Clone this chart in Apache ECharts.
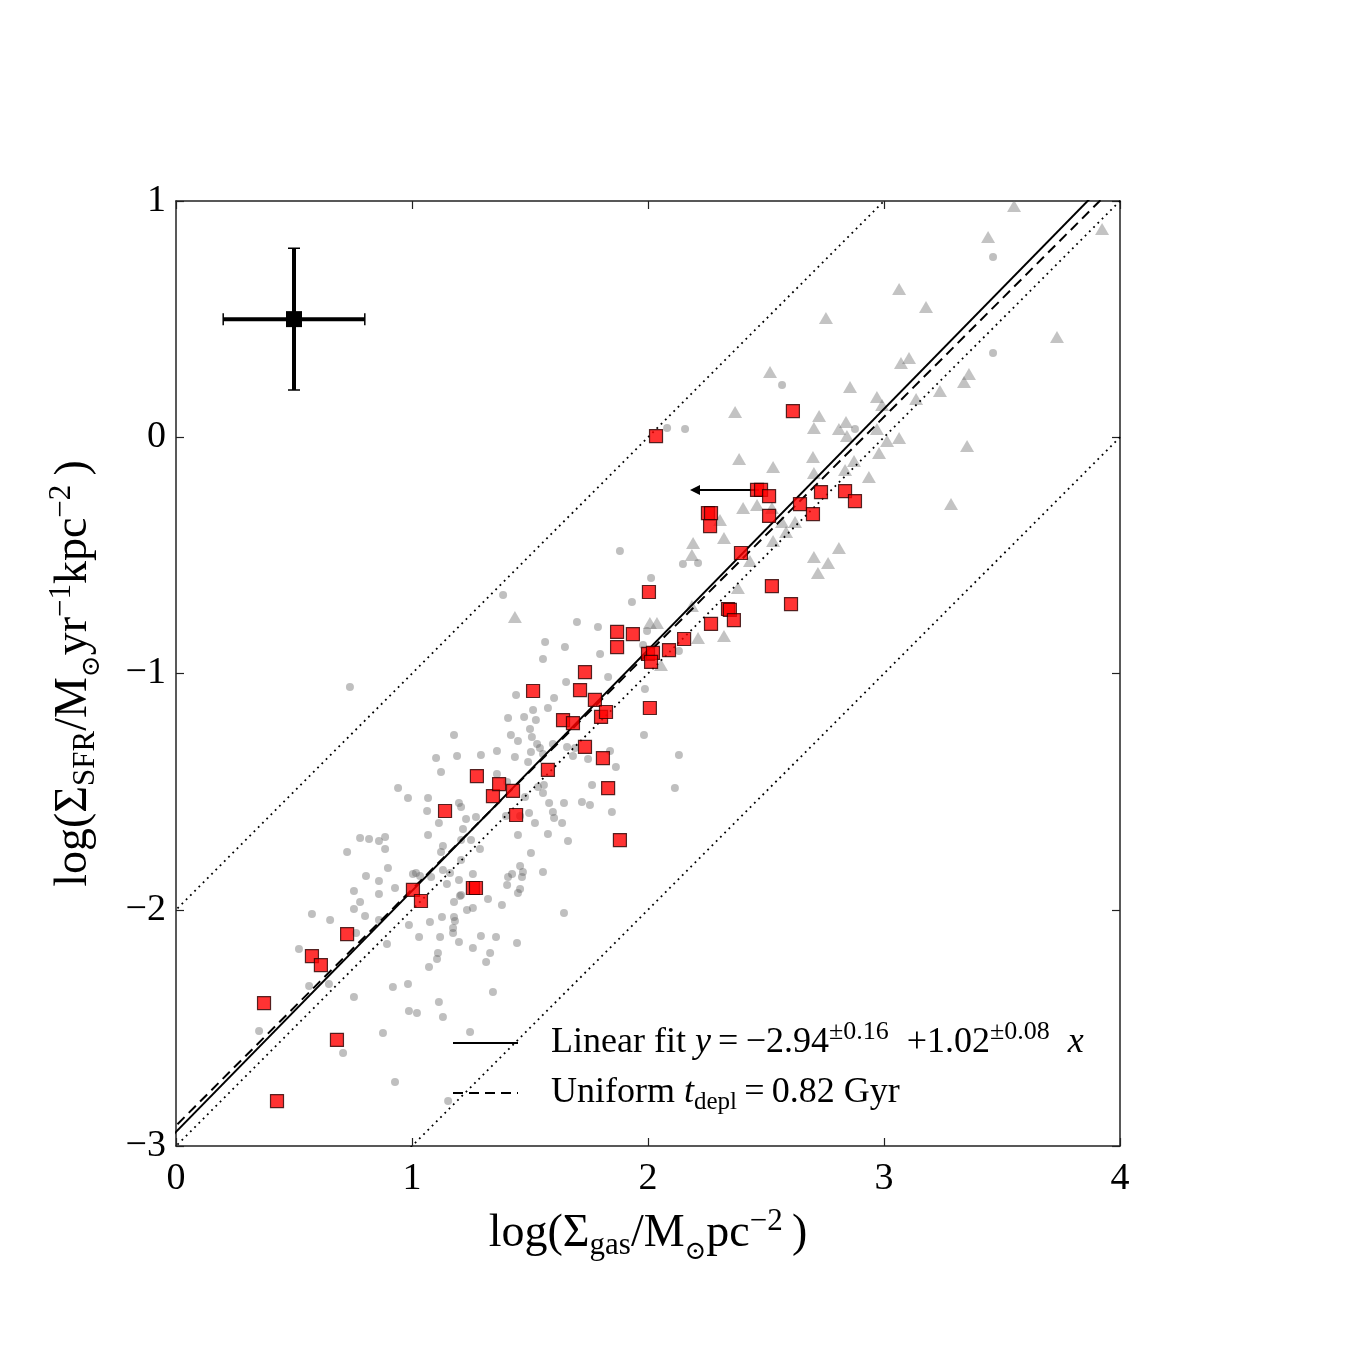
<!DOCTYPE html>
<html><head><meta charset="utf-8">
<script src="https://cdn.jsdelivr.net/npm/echarts@6/dist/echarts.min.js"></script>
<style>html,body{margin:0;padding:0;background:#fff}#c{width:1350px;height:1350px}</style>
</head><body><div id="c"></div>
<script>
// ---- axes ----
const xTicks = [0, 1, 2, 3, 4];
const yTicks = [-3, -2, -1, 0, 1];

// ---- red squares (this work) ----
const redX = [0.373,0.428,0.576,0.614,0.682,0.725,1.004,1.038,1.140,1.258,1.271,1.275,1.343,1.369,1.428,1.441,1.513,1.576,1.640,1.682,1.712,1.733,1.733,1.775,1.801,1.822,1.809,1.831,1.869,1.869,1.881,1.936,2.004,2.008,2.000,2.021,2.013,2.034,2.089,2.153,2.254,2.267,2.263,2.267,2.339,2.347,2.364,2.394,2.462,2.479,2.513,2.513,2.525,2.606,2.614,2.644,2.699,2.733,2.835,2.877];
const redY = [-2.395,-2.81,-2.196,-2.234,-2.551,-2.103,-1.916,-1.963,-1.582,-1.908,-1.908,-1.434,-1.519,-1.468,-1.497,-1.599,-1.074,-1.408,-1.197,-1.210,-1.070,-0.994,-1.311,-1.112,-1.184,-1.163,-1.358,-1.485,-0.824,-0.888,-1.705,-0.833,-0.655,-1.146,-0.917,-0.913,-0.951,0.005,-0.901,-0.854,-0.321,-0.321,-0.376,-0.790,-0.727,-0.731,-0.774,-0.490,-0.223,-0.223,-0.249,-0.333,-0.630,-0.706,0.111,-0.283,-0.325,-0.232,-0.228,-0.270];

// ---- grey triangles ----
const triX = [1.436,2.008,2.038,2.212,2.055,2.322,2.186,2.381,2.191,2.186,2.305,2.322,2.403,2.462,2.525,2.432,2.369,2.386,2.530,2.568,2.623,2.585,2.530,2.703,2.763,2.720,2.809,2.725,2.703,2.809,2.839,2.843,2.856,2.970,2.992,2.970,2.699,2.703,2.835,2.873,2.936,2.979,3.013,3.064,3.136,3.551,3.441,3.924,3.064,3.178,2.754,3.733,2.517,3.072,3.106,3.237,3.339,3.360,3.352,3.284];
const triY = [-0.761,-0.786,-0.786,-0.850,-0.964,-0.841,-0.714,-0.638,-0.448,-0.498,-0.350,-0.426,-0.299,-0.287,-0.299,-0.524,0.107,-0.092,-0.126,-0.359,-0.359,-0.401,-0.439,-0.507,-0.532,-0.575,-0.469,0.090,0.039,0.035,0.065,0.005,0.213,0.170,0.137,0.035,-0.084,-0.151,-0.139,-0.101,-0.168,-0.067,-0.016,-0.003,0.162,0.979,0.848,0.881,0.628,0.551,0.505,0.424,0.276,0.314,0.335,0.196,0.234,0.268,-0.037,-0.283];

// ---- grey dots ----
const dotX = [0.737,1.386,2.081,2.157,2.568,3.462,3.462,2.877,1.881,2.148,2.212,2.013,1.932,1.699,1.788,1.996,1.648,1.797,1.831,2.131,1.979,1.564,1.555,1.653,1.987,1.441,1.602,1.576,1.513,1.475,1.407,1.525,1.500,1.508,1.178,1.419,1.449,1.530,1.542,1.597,1.657,1.983,1.102,1.191,1.292,1.360,1.436,1.492,1.504,1.555,1.691,1.682,1.746,1.839,1.864,2.131,1.123,1.360,1.403,1.534,1.555,1.559,1.479,0.983,1.068,1.199,1.208,1.064,1.114,1.229,1.271,1.398,1.458,1.496,1.581,1.644,1.720,1.754,1.763,1.597,1.602,1.636,1.521,1.847,2.114,1.216,1.068,1.208,1.250,1.288,1.131,1.123,1.449,1.576,1.661,1.504,1.208,1.458,1.470,1.466,1.407,1.403,1.424,1.458,1.449,1.555,1.161,1.017,1.034,1.081,1.148,1.203,1.322,1.381,1.178,1.258,1.233,1.644,1.127,1.178,0.941,0.780,0.818,0.860,0.886,0.725,0.886,0.898,0.805,0.860,1.004,1.131,0.928,0.754,0.780,0.754,0.801,0.860,1.199,1.258,1.208,0.576,0.653,0.860,0.987,1.076,1.182,1.174,1.174,1.119,1.199,1.292,1.258,1.356,1.030,0.894,0.763,0.521,0.564,0.648,0.754,0.919,0.983,1.072,1.110,1.106,1.331,1.314,1.343,1.114,0.987,1.021,1.131,0.352,0.877,1.246,0.708,0.928,1.153,1.445];
const dotY = [-1.057,-0.668,0.039,0.035,0.221,0.763,0.357,0.035,-0.481,-0.537,-0.532,-0.596,-0.697,-0.782,-0.803,-0.820,-0.888,-0.917,-1.015,-0.905,-0.879,-0.867,-0.939,-1.036,-1.066,-1.091,-1.104,-1.146,-1.154,-1.184,-1.188,-1.197,-1.235,-1.269,-1.260,-1.260,-1.286,-1.298,-1.315,-1.298,-1.311,-1.260,-1.358,-1.349,-1.345,-1.328,-1.353,-1.375,-1.332,-1.341,-1.315,-1.349,-1.362,-1.328,-1.396,-1.345,-1.417,-1.425,-1.459,-1.480,-1.506,-1.472,-1.523,-1.527,-1.527,-1.548,-1.565,-1.582,-1.633,-1.616,-1.607,-1.603,-1.603,-1.590,-1.548,-1.548,-1.544,-1.557,-1.472,-1.586,-1.612,-1.633,-1.633,-1.586,-1.485,-1.658,-1.684,-1.705,-1.705,-1.743,-1.730,-1.756,-1.684,-1.679,-1.709,-1.760,-1.789,-1.815,-1.840,-1.861,-1.861,-1.895,-1.849,-1.912,-1.929,-1.840,-1.844,-1.844,-1.857,-1.861,-1.891,-1.942,-1.954,-1.980,-1.967,-1.993,-2.001,-2.014,-2.031,-2.031,-1.485,-1.696,-1.700,-1.709,-1.692,-1.756,-1.743,-1.823,-1.857,-1.878,-1.849,-1.832,-1.908,-1.921,-1.967,-1.997,-2.026,-1.933,-1.874,-1.849,-1.938,-2.018,-2.043,-2.043,-2.065,-2.052,-2.048,-2.077,-2.098,-2.115,-2.137,-2.111,-2.162,-2.115,-2.115,-2.145,-2.098,-2.166,-2.323,-2.314,-2.369,-2.327,-2.314,-2.242,-2.183,-2.208,-2.183,-2.221,-2.348,-2.390,-2.429,-2.437,-2.454,-2.513,-2.522,-2.517,-2.606,-2.729,-2.810,-2.141];

// ---- upper limit arrow (from, to) ----
const arrowFrom = [2.470, -0.223];
const arrowTo = [2.178, -0.223];

// ---- typical error bar ----
const errPoint = [0.5, 0.5];
const errSize = [0.3, 0.3];

// ---- relations ----
const fitIntercept = -2.94, fitSlope = 1.02;
const tDeplGyr = 0.82;
const dottedOffsets = [-2, -3, -4];

const F = 'Liberation Serif';
const pair = (xs, ys) => xs.map((x, i) => [x, ys[i]]);
const xLo = xTicks[0], xHi = xTicks[xTicks.length - 1];
const ext = [xLo - 1, xHi + 1];
const lineData = (a, b) => ext.map(x => [x, a + b * x]);
const uniformIntercept = Math.log10(1e6 / (tDeplGyr * 1e9));
const fmt = v => (v < 0 ? '\u2212' + (-v) : '' + v);

const axisLine = {onZero: false, lineStyle: {color: '#222', width: 1.5}};
const axisTick = {inside: true, length: 8, lineStyle: {color: '#222', width: 1.2}};

const nameRich = {
  n: {fontFamily: F, fontSize: 46, lineHeight: 60, color: '#000'},
  sub: {fontFamily: F, fontSize: 31, lineHeight: 60, padding: [24, 0, 0, 0], color: '#000'},
  sun: {fontFamily: 'DejaVu Serif', fontSize: 26, lineHeight: 60, padding: [36, 0, 0, 0], color: '#000'},
  sup: {fontFamily: F, fontSize: 31, lineHeight: 60, padding: [0, 0, 24, 0], color: '#000'}
};
const legRich = {
  n: {fontFamily: F, fontSize: 36, lineHeight: 44, color: '#000'},
  n0: {fontFamily: F, fontSize: 36, lineHeight: 44, color: '#000', padding: [0, 0, 0, 28]},
  i: {fontFamily: F, fontSize: 36, fontStyle: 'italic', lineHeight: 44, color: '#000'},
  sup: {fontFamily: F, fontSize: 26, lineHeight: 44, padding: [0, 0, 22, 0], color: '#000'},
  sub: {fontFamily: F, fontSize: 25, lineHeight: 44, padding: [18, 0, 0, 0], color: '#000'}
};

const dotted = {color: '#000', width: 1.8, type: [1.8, 4.2], cap: 'butt'};

const option = {
  animation: false,
  backgroundColor: '#fff',
  grid: {left: 176, top: 201, right: 230, bottom: 204, containLabel: false},
  legend: {
    left: 452, top: 1019, padding: 0, orient: 'vertical', itemWidth: 65, itemHeight: 20, itemGap: 4,
    selectedMode: false, data: ['fit', 'uniform'],
    itemStyle: {opacity: 0},
    textStyle: {fontFamily: F, fontSize: 36, lineHeight: 44, color: '#000', rich: legRich},
    formatter: name => name === 'fit'
      ? '{n0|Linear fit }{i|y}{n|\u2009=\u2009\u22122.94}{sup|\u00b10.16}{n|\u2002+1.02}{sup|\u00b10.08}{n|\u2002}{i|x}'
      : '{n0|Uniform }{i|t}{sub|depl}{n|\u2009=\u20090.82 Gyr}'
  },
  xAxis: [
    {type: 'value', min: xLo, max: xHi, interval: 1, position: 'bottom',
     axisLine, axisTick, splitLine: {show: false},
     axisLabel: {margin: 14, fontFamily: F, fontSize: 38, color: '#000', formatter: fmt},
     name: '{n|log(\u03a3}{sub|gas}{n|/M}{sun|\u2299}{n|pc}{sup|\u22122}{n|\u2009)}',
     nameLocation: 'middle', nameGap: 56, nameTextStyle: {rich: nameRich, lineHeight: 60}},
    {type: 'value', min: xLo, max: xHi, interval: 1, position: 'top',
     axisLine, axisTick, axisLabel: {show: false}, splitLine: {show: false}}
  ],
  yAxis: [
    {type: 'value', min: yTicks[0], max: yTicks[yTicks.length - 1], interval: 1, position: 'left',
     axisLine, axisTick, splitLine: {show: false},
     axisLabel: {margin: 10, fontFamily: F, fontSize: 38, color: '#000', formatter: fmt},
     name: '{n|log(\u03a3}{sub|SFR}{n|/M}{sun|\u2299}{n|yr}{sup|\u22121}{n|kpc}{sup|\u22122}{n|\u2009)}',
     nameLocation: 'middle', nameRotate: 90, nameGap: 72, nameTextStyle: {rich: nameRich, lineHeight: 60}},
    {type: 'value', min: yTicks[0], max: yTicks[yTicks.length - 1], interval: 1, position: 'right',
     axisLine, axisTick, axisLabel: {show: false}, splitLine: {show: false}}
  ],
  series: [
    {type: 'scatter', name: 'dots', data: pair(dotX, dotY), symbol: 'circle', symbolSize: 8, z: 2, silent: true,
     itemStyle: {color: 'rgba(95,95,95,0.5)'}},
    {type: 'scatter', name: 'tri', data: pair(triX, triY), symbol: 'triangle', symbolSize: [14, 12], z: 3, silent: true,
     itemStyle: {color: 'rgba(105,105,105,0.5)'}},
    ...dottedOffsets.map((c, k) => ({type: 'line', name: 'dotted' + k, data: lineData(c, 1), symbol: 'none', z: 4, silent: true, clip: true,
     lineStyle: dotted})),
    {type: 'line', name: 'fit', data: lineData(fitIntercept, fitSlope), symbol: 'none', z: 4, silent: true, clip: true,
     itemStyle: {color: '#000'}, lineStyle: {color: '#000', width: 2}},
    {type: 'line', name: 'uniform', data: lineData(uniformIntercept, 1), symbol: 'none', z: 4, silent: true, clip: true,
     itemStyle: {color: '#000'}, lineStyle: {color: '#000', width: 2, type: [10, 6]}},
    {type: 'custom', name: 'arrow', data: [[arrowFrom[0], arrowFrom[1], arrowTo[0], arrowTo[1]]], z: 5, silent: true,
     renderItem: (p, api) => {
       const a = api.coord([api.value(0), api.value(1)]);
       const b = api.coord([api.value(2), api.value(3)]);
       const L = 10, W = 5;
       return {type: 'group', children: [
         {type: 'line', shape: {x1: a[0], y1: a[1], x2: b[0] + L, y2: b[1]}, style: {stroke: '#000', lineWidth: 2}},
         {type: 'polygon', shape: {points: [[b[0], b[1]], [b[0] + L, b[1] - W], [b[0] + L, b[1] + W]]}, style: {fill: '#000'}}
       ]};
     }},
    {type: 'scatter', name: 'red', data: pair(redX, redY), symbol: 'rect', symbolSize: 13, z: 6, silent: true,
     itemStyle: {color: '#ff0000', borderColor: '#2a0000', borderWidth: 1.2}},
    {type: 'custom', name: 'errbar', data: [[errPoint[0], errPoint[1]]], z: 7, silent: true,
     renderItem: (p, api) => {
       const x = api.value(0), y = api.value(1);
       const c = api.coord([x, y]);
       const l = api.coord([x - errSize[0], y]), r = api.coord([x + errSize[0], y]);
       const t = api.coord([x, y + errSize[1]]), b = api.coord([x, y - errSize[1]]);
       const cap = 6, s = 8;
       const ln = (x1, y1, x2, y2, w) => ({type: 'line', shape: {x1, y1, x2, y2}, style: {stroke: '#000', lineWidth: w}});
       return {type: 'group', children: [
         ln(l[0], l[1], r[0], r[1], 4),
         ln(t[0], t[1], b[0], b[1], 4),
         ln(l[0], l[1] - cap, l[0], l[1] + cap, 1.5),
         ln(r[0], r[1] - cap, r[0], r[1] + cap, 1.5),
         ln(t[0] - cap, t[1], t[0] + cap, t[1], 1.5),
         ln(b[0] - cap, b[1], b[0] + cap, b[1], 1.5),
         {type: 'rect', shape: {x: c[0] - s, y: c[1] - s, width: 2 * s, height: 2 * s}, style: {fill: '#000'}}
       ]};
     }}
  ]
};
const chart = echarts.init(document.getElementById('c'), null, {renderer: 'canvas'});
chart.setOption(option);
</script></body></html>
